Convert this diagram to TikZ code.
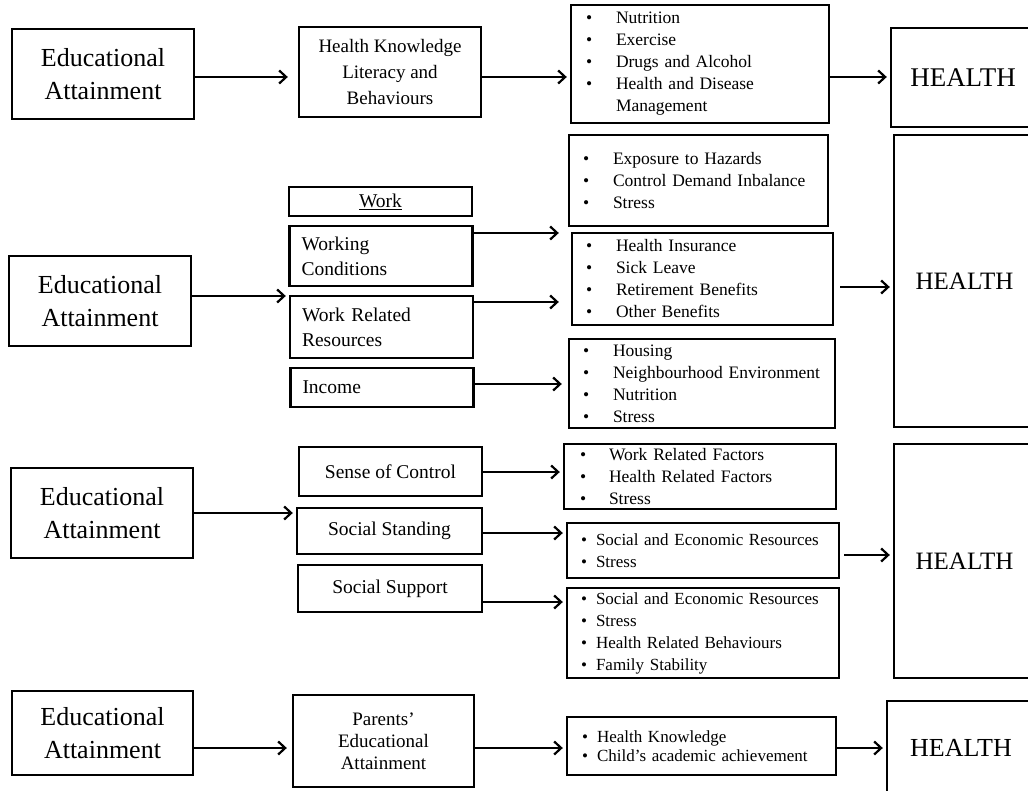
\documentclass[tikz,border=0pt]{standalone}
\usepackage{fontspec}
\setmainfont{Liberation Serif}
\usetikzlibrary{arrows.meta,positioning}
\newcommand{\bw}{\makebox[30pt][l]{\textbullet}}
\newcommand{\bn}{\makebox[15pt][l]{\textbullet}}

\begin{document}
\begin{tikzpicture}[x=1pt, y=-1pt,
  box/.style={draw, line width=2.4pt, inner sep=0pt, align=center},
  edu/.style={box, minimum width=182pt, minimum height=90pt,
              font=\fontsize{26}{33}\selectfont},
  mid/.style={box, minimum width=183pt, font=\fontsize{19.5}{25}\selectfont},
  midl/.style={mid, align=left, inner xsep=12pt, text width=159pt},
  list/.style={box, align=left, inner xsep=15pt,
               font=\fontsize{17.5}{22}\selectfont},
  hlth/.style={box, minimum width=144pt, font=\fontsize{25}{30}\selectfont},
  arr/.style={-{Straight Barb[length=7pt,width=13pt]}, line width=2.2pt,
              shorten >=3pt}
]
\clip (0,0) rectangle (1028,791);

% first path
\node[edu] (ea1) at (103,74) {Educational\\Attainment};
\node[mid, minimum width=182pt, minimum height=90pt,
      font=\fontsize{19}{26}\selectfont] (hk) at (390,72)
  {Health Knowledge\\Literacy and\\Behaviours};
\node[list, text width=228pt, minimum height=118pt] (nut) at (700,64)
  {\bw Nutrition\\ \bw Exercise\\ \bw Drugs and Alcohol\\
   \bw Health and Disease\\ \hspace*{30pt}Management};
\node[hlth, minimum height=99pt, font=\fontsize{27}{30}\selectfont] (h1)
  at (963,77.5) {HEALTH};
\coordinate (r1) at (0,77);
\draw[arr, shorten >=10pt] (ea1.east |- r1) -- (hk.west |- r1);
\draw[arr] (hk.east |- r1) -- (nut.west |- r1);
\draw[arr] (nut.east |- r1) -- (h1.west |- r1);

% work path
\node[edu] (ea2) at (100,301) {Educational\\Attainment};
\node[mid, minimum height=29pt] (work) at (380.5,201.5) {\underline{Work}};
\node[midl, minimum height=60pt] (wc) at (381,256) {Working\\Conditions};
\node[midl, minimum height=62pt] (wrr) at (381.5,327) {Work Related\\Resources};
\node[midl, minimum height=39pt] (inc) at (382,387.5) {Income};
\node[list, inner xsep=14pt, text width=231pt, minimum height=91pt] (exp)
  at (698.5,180.5)
  {\bw Exposure to Hazards\\ \bw Control Demand Inbalance\\ \bw Stress};
\node[list, inner xsep=14pt, text width=233pt, minimum height=92pt] (ins)
  at (702.5,279)
  {\bw Health Insurance\\ \bw Sick Leave\\ \bw Retirement Benefits\\
   \bw Other Benefits};
\node[list, inner xsep=14pt, text width=238pt, minimum height=89pt] (hou)
  at (702,383.5)
  {\bw Housing\\ \bw Neighbourhood Environment\\ \bw Nutrition\\ \bw Stress};
\node[hlth, minimum width=141pt, minimum height=292pt] (h2)
  at (964.5,281) {HEALTH};
\coordinate (r2a) at (0,296);
\coordinate (r2b) at (0,233);
\coordinate (r2c) at (0,302);
\coordinate (r2d) at (0,384);
\coordinate (r2e) at (0,287);
\draw[arr] (ea2.east |- r2a) -- (wrr.west |- r2a);
\draw[arr, shorten >=12pt] (wc.east |- r2b) -- (ins.west |- r2b);
\draw[arr, shorten >=12pt] (wrr.east |- r2c) -- (ins.west |- r2c);
\draw[arr, shorten >=6pt] (inc.east |- r2d) -- (hou.west |- r2d);
\draw[arr, shorten <=6pt] (ins.east |- r2e) -- (h2.west |- r2e);

% social path
\node[edu] (ea3) at (102,513) {Educational\\Attainment};
\node[mid, minimum height=49pt] (soc) at (390.5,471.5) {Sense of Control};
\node[mid, minimum width=185pt, minimum height=46pt] (ss) at (389.5,531)
  {Social Standing};
\node[mid, minimum width=184pt, minimum height=47pt] (sup) at (390,588.5)
  {Social Support};
\node[list, inner xsep=16pt, text width=240pt, minimum height=65pt] (wrf)
  at (700,476.5)
  {\makebox[29pt][l]{\textbullet}Work Related Factors\\
   \makebox[29pt][l]{\textbullet}Health Related Factors\\
   \makebox[29pt][l]{\textbullet}Stress};
\node[list, inner xsep=14pt, text width=244pt, minimum height=55pt,
      font=\fontsize{17}{22}\selectfont] (sef) at (703,550.5)
  {\bn Social and Economic Resources\\ \bn Stress};
\node[list, inner xsep=14pt, text width=244pt, minimum height=90pt,
      font=\fontsize{17}{22}\selectfont] (sef2) at (703,633)
  {\bn Social and Economic Resources\\ \bn Stress\\
   \bn Health Related Behaviours\\ \bn Family Stability};
\node[hlth, minimum width=141pt, minimum height=234pt] (h3)
  at (964.5,561) {HEALTH};
\coordinate (r3a) at (0,513);
\coordinate (r3b) at (0,472);
\coordinate (r3c) at (0,533);
\coordinate (r3d) at (0,602);
\coordinate (r3e) at (0,555);
\draw[arr] (ea3.east |- r3a) -- (ss.west |- r3a);
\draw[arr] (soc.east |- r3b) -- (wrf.west |- r3b);
\draw[arr] (ss.east |- r3c) -- (sef.west |- r3c);
\draw[arr] (sup.east |- r3d) -- (sef2.west |- r3d);
\draw[arr, shorten <=4pt] (sef.east |- r3e) -- (h3.west |- r3e);

% parents path
\node[edu, minimum width=181pt, minimum height=84pt] (ea4) at (102.5,733)
  {Educational\\Attainment};
\node[mid, minimum width=181pt, minimum height=92pt,
      font=\fontsize{19}{22}\selectfont] (par) at (383.5,741)
  {Parents’\\Educational\\Attainment};
\node[list, inner xsep=15pt, text width=239pt, minimum height=58pt,
      font=\fontsize{17}{19}\selectfont] (hkc) at (701.5,746)
  {\bn Health Knowledge\\ \bn Child’s academic achievement};
\node[hlth, minimum width=148pt, minimum height=94pt,
      font=\fontsize{26}{30}\selectfont] (h4) at (961,748) {HEALTH};
\coordinate (r4) at (0,748);
\draw[arr, shorten >=5pt] (ea4.east |- r4) -- (par.west |- r4);
\draw[arr] (par.east |- r4) -- (hkc.west |- r4);
\draw[arr] (hkc.east |- r4) -- (h4.west |- r4);
\end{tikzpicture}
\end{document}
